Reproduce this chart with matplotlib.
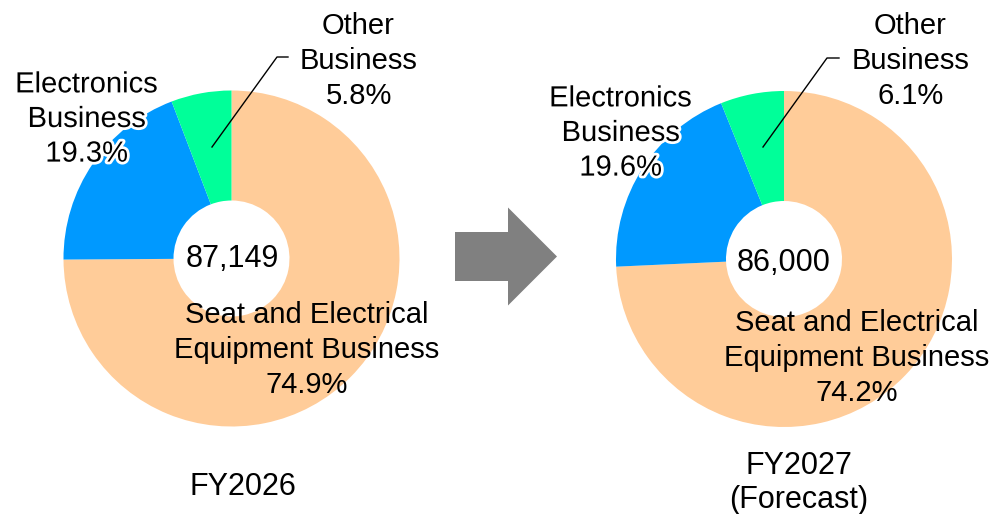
import matplotlib.pyplot as plt
from matplotlib.patches import FancyArrow
import matplotlib.patheffects as pe

plt.rcParams['font.family'] = ['Liberation Sans', 'DejaVu Sans']

categories = ['Seat and Electrical\nEquipment Business', 'Electronics\nBusiness', 'Other\nBusiness']
colors = ['#FFCC99', '#0099FF', '#00FF99']
shares = {
    'FY2026': [74.9, 19.3, 5.8],
    'FY2027': [74.2, 19.6, 6.1],
}
totals = ['87,149', '86,000']
year_labels = ['FY2026', 'FY2027\n(Forecast)']

W, H = 993, 514
fig = plt.figure(figsize=(W / 100, H / 100), dpi=100)
ax = fig.add_axes([0, 0, 1, 1])

# layout in pixel coords (y down)
centers = [(231.5, 258.5), (784, 259)]
R_OUT, R_IN = 168, 58
label_pos = [
    [(307, 350), (86.5, 119), (358.5, 61)],
    [(857, 358), (620.5, 133), (910.5, 61)],
]
total_pos = [(232, 259), (784, 263)]
year_pos = [(243, 487), (799, 483)]
leaders = [
    ([212, 277, 288], [147, 57, 57]),
    ([763, 827, 839], [147, 58, 58]),
]
fs = 21
ls = 1.3
halo = [pe.withStroke(linewidth=4, foreground='white')]

for i, key in enumerate(shares):
    vals = shares[key]
    ax.pie(vals, colors=colors, startangle=-90, counterclock=True,
           center=centers[i], radius=R_OUT,
           wedgeprops=dict(width=R_OUT - R_IN, edgecolor='none'))
    for j, cat in enumerate(categories):
        x, y = label_pos[i][j]
        t = ax.text(x, y, f'{cat}\n{vals[j]:.1f}%', ha='center', va='center',
                    fontsize=fs, linespacing=ls, multialignment='center')
        if j == 1:
            t.set_path_effects(halo)
    ax.plot(leaders[i][0], leaders[i][1], color='black', lw=1)
    ax.text(*total_pos[i], totals[i], ha='center', va='center', fontsize=22)
    ax.text(*year_pos[i], year_labels[i], ha='center', va='center',
            fontsize=22, linespacing=1.2)

ax.add_patch(FancyArrow(455, 256.5, 102, 0, width=49, head_width=98,
                        head_length=49, length_includes_head=True,
                        color='#808080', lw=0))

ax.set_xlim(0, W)
ax.set_ylim(H, 0)
ax.set_aspect('equal')
ax.axis('off')

fig.savefig('out.png', dpi=100)
